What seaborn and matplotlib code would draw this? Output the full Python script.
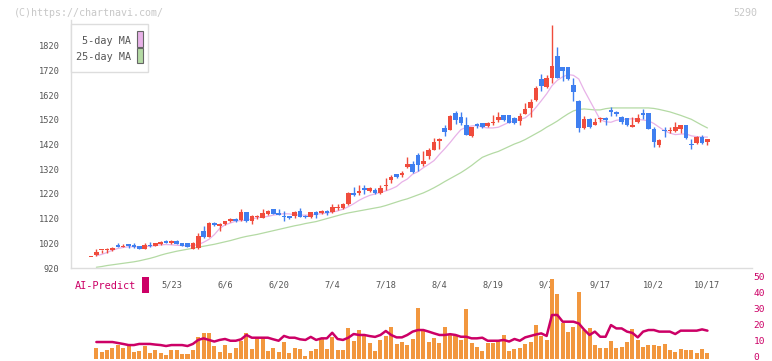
import matplotlib
matplotlib.use("Agg")
import matplotlib.pyplot as plt
from matplotlib.patches import Rectangle
from matplotlib.transforms import ScaledTranslation
import seaborn as sns
import numpy as np

sns.set_style("white")
plt.rcParams["font.family"] = ["DejaVu Sans Mono", "DejaVu Sans"]

# daily candles (index 0..115), prices in yen
opens = [964, 971, 992, 993, 993, 1013, 1007, 1016, 1013, 1009,
         998, 1012, 1009, 1017, 1029, 1020, 1029, 1020, 1020, 997,
         999, 1069, 1045, 1103, 1090, 1097, 1111, 1118, 1114, 1147,
         1110, 1126, 1124, 1137, 1158, 1143, 1129, 1130, 1130, 1150,
         1130, 1126, 1147, 1141, 1150, 1147, 1164, 1162, 1178, 1223,
         1224, 1244, 1230, 1234, 1224, 1253, 1275, 1299, 1295, 1327,
         1342, 1376, 1342, 1372, 1397, 1433, 1486, 1480, 1547, 1530,
         1497, 1456, 1501, 1507, 1496, 1506, 1521, 1541, 1541, 1529,
         1517, 1544, 1568, 1600, 1687, 1651, 1691, 1779, 1734, 1734,
         1662, 1597, 1486, 1524, 1500, 1522, 1527, 1560, 1550, 1530,
         1528, 1490, 1512, 1546, 1546, 1483, 1416, 1480, 1475, 1476,
         1483, 1497, 1423, 1425, 1452, 1429]
highs = [964, 995, 994, 999, 1006, 1020, 1016, 1017, 1020, 1010,
         1020, 1024, 1022, 1028, 1032, 1032, 1032, 1021, 1020, 1025,
         1062, 1089, 1108, 1106, 1103, 1112, 1124, 1121, 1158, 1148,
         1133, 1135, 1158, 1153, 1158, 1158, 1150, 1132, 1150, 1163,
         1135, 1148, 1149, 1153, 1153, 1181, 1178, 1184, 1226, 1248,
         1257, 1255, 1247, 1245, 1255, 1284, 1295, 1300, 1314, 1369,
         1354, 1386, 1392, 1405, 1445, 1445, 1497, 1541, 1554, 1550,
         1533, 1492, 1505, 1508, 1513, 1541, 1553, 1541, 1541, 1533,
         1546, 1588, 1604, 1658, 1705, 1701, 1904, 1815, 1735, 1734,
         1691, 1600, 1537, 1526, 1528, 1530, 1530, 1570, 1557, 1537,
         1528, 1530, 1544, 1564, 1547, 1490, 1443, 1490, 1490, 1513,
         1500, 1497, 1443, 1455, 1460, 1443]
lows = [964, 968, 982, 979, 990, 1004, 1004, 999, 999, 997,
        996, 1006, 1008, 1015, 1020, 1017, 1017, 1008, 1004, 995,
        996, 1041, 1044, 1089, 1070, 1095, 1106, 1108, 1111, 1108,
        1098, 1119, 1122, 1135, 1137, 1134, 1110, 1118, 1121, 1125,
        1124, 1124, 1121, 1137, 1134, 1143, 1155, 1160, 1175, 1210,
        1214, 1218, 1228, 1220, 1218, 1237, 1266, 1285, 1287, 1325,
        1306, 1311, 1331, 1360, 1396, 1403, 1456, 1478, 1503, 1498,
        1458, 1452, 1488, 1488, 1489, 1499, 1513, 1514, 1505, 1504,
        1497, 1542, 1530, 1598, 1638, 1650, 1667, 1690, 1678, 1683,
        1597, 1470, 1484, 1488, 1497, 1510, 1497, 1534, 1535, 1504,
        1494, 1490, 1506, 1524, 1481, 1409, 1409, 1450, 1467, 1470,
        1466, 1443, 1400, 1423, 1423, 1416]
closes = [964, 984, 993, 995, 1002, 1005, 1010, 1009, 1005, 998,
          1013, 1008, 1020, 1026, 1021, 1029, 1018, 1008, 1005, 1022,
          1050, 1044, 1103, 1095, 1100, 1110, 1119, 1110, 1147, 1111,
          1130, 1128, 1143, 1150, 1139, 1135, 1127, 1122, 1146, 1126,
          1126, 1146, 1134, 1149, 1141, 1167, 1166, 1178, 1224, 1214,
          1230, 1234, 1244, 1224, 1244, 1256, 1288, 1287, 1306, 1342,
          1308, 1335, 1355, 1396, 1432, 1443, 1472, 1537, 1521, 1505,
          1460, 1490, 1494, 1490, 1505, 1509, 1530, 1521, 1508, 1506,
          1537, 1564, 1593, 1647, 1655, 1691, 1738, 1691, 1718, 1685,
          1634, 1486, 1524, 1490, 1510, 1524, 1518, 1550, 1544, 1510,
          1497, 1500, 1528, 1538, 1483, 1429, 1439, 1475, 1480, 1490,
          1500, 1445, 1417, 1452, 1425, 1443]

# moving averages, volume and AI-Predict start at index 1
ma5 = [970, 975, 983, 992, 999, 1003, 1006, 1006, 1006, 1007,
       1008, 1011, 1014, 1015, 1014, 1012, 1011, 1010, 1011, 1015,
       1024, 1036, 1055, 1080, 1095, 1102, 1110, 1112, 1114, 1118,
       1124, 1126, 1129, 1134, 1137, 1140, 1139, 1135, 1134, 1134,
       1134, 1138, 1140, 1143, 1146, 1151, 1158, 1168, 1180, 1194,
       1205, 1214, 1220, 1226, 1232, 1240, 1250, 1268, 1280, 1300,
       1310, 1326, 1340, 1355, 1380, 1403, 1428, 1455, 1480, 1490,
       1495, 1497, 1490, 1487, 1487, 1490, 1500, 1510, 1515, 1522,
       1528, 1545, 1570, 1597, 1625, 1658, 1680, 1694, 1703, 1700,
       1685, 1640, 1600, 1560, 1520, 1512, 1510, 1518, 1521, 1523,
       1524, 1522, 1519, 1516, 1505, 1490, 1476, 1466, 1460, 1462,
       1463, 1455, 1452, 1450, 1450]
ma25 = [923, 926, 930, 933, 936, 939, 942, 945, 949, 954,
        959, 965, 972, 978, 983, 988, 992, 996, 1000, 1004,
        1008, 1012, 1016, 1021, 1026, 1031, 1037, 1043, 1048, 1052,
        1056, 1061, 1066, 1071, 1076, 1081, 1086, 1091, 1095, 1100,
        1104, 1108, 1114, 1120, 1126, 1132, 1138, 1143, 1147, 1151,
        1155, 1159, 1163, 1167, 1173, 1180, 1187, 1194, 1200, 1208,
        1216, 1224, 1234, 1245, 1257, 1270, 1282, 1294, 1306, 1320,
        1335, 1352, 1368, 1377, 1385, 1392, 1402, 1412, 1422, 1430,
        1440, 1452, 1464, 1476, 1490, 1502, 1515, 1530, 1544, 1556,
        1562, 1564, 1562, 1560, 1560, 1565, 1568, 1568, 1568, 1568,
        1568, 1568, 1568, 1568, 1566, 1562, 1557, 1552, 1545, 1538,
        1530, 1522, 1510, 1498, 1487]
volume = [6.6, 4.1, 5.3, 6.6, 8.4, 6.6, 7.8, 4.1, 4.7, 7.8,
          3.4, 5.3, 3.4, 2.2, 5.3, 5.3, 2.8, 2.8, 5.3, 13.4,
          15.9, 15.9, 7.8, 4.1, 8.4, 3.4, 6.6, 10.9, 15.9, 5.9,
          13.4, 13.4, 4.7, 6.6, 4.1, 10.3, 3.4, 6.6, 5.9, 1.6,
          4.7, 5.9, 12.2, 5.9, 13.4, 5.3, 5.3, 19.1, 10.9, 17.8,
          15.3, 9.7, 4.7, 11.6, 14.1, 19.7, 9.1, 10.3, 8.4, 12.2,
          31.6, 17.2, 10.3, 12.8, 9.7, 19.7, 14.7, 14.1, 11.6, 31.0,
          9.7, 7.2, 4.7, 9.7, 9.7, 10.9, 14.7, 4.7, 5.9, 6.6,
          9.1, 10.3, 20.9, 14.1, 11.6, 49.7, 40.3, 22.2, 16.6, 19.7,
          41.6, 17.8, 19.1, 8.4, 6.6, 6.6, 10.9, 6.6, 7.2, 10.3,
          18.4, 11.6, 7.2, 8.4, 8.4, 7.8, 9.1, 5.3, 4.1, 5.9,
          5.3, 5.3, 3.4, 5.9, 3.4]
ai_predict = [10.3, 10.3, 10.3, 10.3, 9.7, 9.1, 8.4, 8.4, 9.1, 9.1,
              9.1, 8.7, 8.4, 7.8, 8.4, 8.4, 8.4, 7.8, 9.1, 11.6,
              12.6, 11.6, 10.6, 11.6, 12.2, 11.1, 11.1, 12.0, 14.7, 13.0,
              13.0, 13.0, 13.0, 12.0, 11.1, 14.1, 13.0, 13.0, 12.0, 11.6,
              13.5, 11.6, 12.6, 12.6, 16.1, 12.2, 11.6, 13.0, 15.3, 14.7,
              14.7, 14.0, 13.5, 14.7, 17.2, 14.7, 13.2, 13.2, 14.7, 16.8,
              17.8, 17.8, 16.8, 15.7, 14.7, 14.7, 15.2, 14.7, 13.6, 13.6,
              12.6, 12.6, 13.0, 11.1, 11.1, 11.1, 11.6, 10.6, 12.2, 11.1,
              13.2, 14.1, 15.0, 15.7, 14.1, 27.2, 27.2, 23.0, 23.0, 23.0,
              21.9, 18.0, 14.7, 16.8, 13.6, 13.6, 20.9, 18.8, 18.8, 16.8,
              16.0, 13.2, 16.8, 17.8, 17.8, 16.8, 16.8, 16.8, 15.3, 17.4,
              17.4, 17.4, 17.4, 18.2, 17.4]

date_pos = [15, 25, 35, 45, 55, 65, 75, 85, 95, 105, 115]
date_labels = ["5/23", "6/6", "6/20", "7/4", "7/18", "8/4", "8/19",
               "9/2", "9/17", "10/2", "10/17"]

RED, BLUE = "#f04c3c", "#3f7ff0"
PINK, GREEN = "#e8b2e8", "#b4daa4"
ORANGE, CRIMSON = "#f2973e", "#cc0066"
AXC, TXT = "#dddddd", "#555555"

W, H = 772, 361
fig = plt.figure(figsize=(W / 100, H / 100), dpi=100)


def fx(x):
    return x / W


def fy(y):
    return 1 - y / H


x_left, x_right = -3.79, 123.37
ax = fig.add_axes([fx(70.7), fy(268), fx(752.3) - fx(70.7), fy(20) - fy(268)])

idx = np.arange(len(opens))
o, hi, lo, c = (np.array(a, dtype=float) for a in (opens, highs, lows, closes))
cols = np.where(c >= o, RED, BLUE)
ax.vlines(idx, lo, hi, colors=cols, lw=1, zorder=3)
ax.bar(idx, np.maximum(np.abs(c - o), 4), bottom=np.minimum(o, c), width=0.86,
       color=cols, linewidth=0, zorder=4)

sub_idx = np.arange(1, len(opens))
sns.lineplot(x=sub_idx, y=ma25, color=GREEN, lw=0.9, ax=ax, zorder=2)
sns.lineplot(x=sub_idx, y=ma5, color=PINK, lw=0.9, ax=ax, zorder=2)

ax.set_xlim(x_left, x_right)
ax.set_ylim(920, 1924)
ax.set_yticks(range(920, 1821, 100))
ax.set_xticks(np.linspace(x_left, x_right, 13))
ax.set_xticklabels([])
ax.set_xticks(date_pos, minor=True)
ax.set_xticklabels(date_labels, minor=True)
ax.tick_params(axis="y", length=4, width=1, color=AXC, pad=4,
               labelsize=6.2, labelcolor=TXT)
ax.tick_params(axis="x", which="major", length=4, width=1, color=AXC)
ax.tick_params(axis="x", which="minor", length=0, pad=9,
               labelsize=6.2, labelcolor=TXT)
for s in ("top", "right"):
    ax.spines[s].set_visible(False)
for s in ("left", "bottom"):
    ax.spines[s].set_color(AXC)
    ax.spines[s].set_linewidth(1)
ax.set_xlabel("")
ax.set_ylabel("")

# volume / AI-Predict panel
axv = fig.add_axes([fx(70.7), 0, fx(752.3) - fx(70.7), fy(276)])
axv.patch.set_alpha(0)
sns.barplot(x=sub_idx, y=volume, native_scale=True, color=ORANGE,
            saturation=1, width=0.75, linewidth=0, ax=axv)
sns.lineplot(x=sub_idx, y=ai_predict, color=CRIMSON, lw=1.8, ax=axv)
axv.set_xlim(x_left, x_right)
axv.set_ylim(-1.56, 51.56)
axv.set_xticks([])
axv.yaxis.tick_right()
axv.set_yticks(range(0, 51, 10))
axv.tick_params(axis="y", length=0, pad=1, labelsize=6.8, labelcolor=CRIMSON)
lift = ScaledTranslation(0, 2 / 100, fig.dpi_scale_trans)
for lab in axv.get_yticklabels():
    lab.set_transform(lab.get_transform() + lift)
for s in axv.spines.values():
    s.set_visible(False)
axv.set_xlabel("")
axv.set_ylabel("")

# legend box
fig.add_artist(Rectangle((fx(70.7), fy(72)), 77 / W, 48 / H, transform=fig.transFigure,
                         facecolor="white", edgecolor=AXC, lw=1))
fig.add_artist(Rectangle((fx(137), fy(46.5)), 5.5 / W, 15 / H, transform=fig.transFigure,
                         facecolor=PINK, edgecolor="#666666", lw=0.8))
fig.add_artist(Rectangle((fx(137), fy(63)), 5.5 / W, 15 / H, transform=fig.transFigure,
                         facecolor=GREEN, edgecolor="#666666", lw=0.8))
fig.text(fx(131), fy(40.5), "5-day MA", ha="right", va="center", fontsize=7.3, color=TXT)
fig.text(fx(131), fy(56.5), "25-day MA", ha="right", va="center", fontsize=7.3, color=TXT)

# AI-Predict label
fig.text(fx(75), fy(286), "AI-Predict", ha="left", va="center", fontsize=7.4, color=CRIMSON)
fig.add_artist(Rectangle((fx(142), fy(293)), 7 / W, 16 / H, transform=fig.transFigure,
                         facecolor=CRIMSON, edgecolor="none"))

# watermark and code
fig.text(fx(14), fy(12.5), "(C)https://chartnavi.com/", ha="left", va="center",
         fontsize=7.2, color="#c8c8c8")
fig.text(fx(757), fy(12.5), "5290", ha="right", va="center", fontsize=7.2, color="#c8c8c8")

fig.savefig("out.png", dpi=100)
